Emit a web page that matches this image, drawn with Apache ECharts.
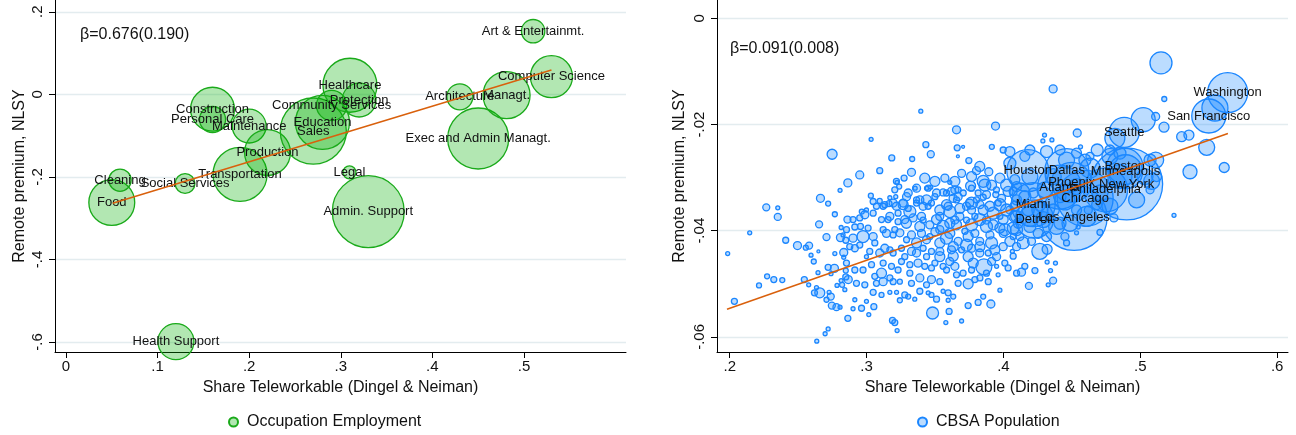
<!DOCTYPE html>
<html><head><meta charset="utf-8">
<script src="https://cdn.jsdelivr.net/npm/echarts@6/dist/echarts.min.js"></script>
<style>html,body{margin:0;padding:0;background:#fff}#c{width:1296px;height:435px}</style>
</head><body><div id="c"></div>
<script>
// ---------------- Left panel: occupations ----------------
const occNames = ['Food','Cleaning','Social Services','Transportation','Construction','Personal Care','Maintenance','Production','Sales','Education','Community Services','Healthcare','Protection','Legal','Admin. Support','Health Support','Exec and Admin Managt.','Architecture','Managt.','Computer Science','Art & Entertainmt.'];
const occShare = [0.050,0.059,0.130,0.190,0.160,0.160,0.200,0.220,0.270,0.280,0.290,0.310,0.320,0.3095,0.330,0.120,0.450,0.430,0.481,0.530,0.510];
const occPremium = [-0.262,-0.208,-0.216,-0.194,-0.036,-0.061,-0.077,-0.141,-0.089,-0.068,-0.027,0.022,-0.014,-0.189,-0.284,-0.599,-0.107,-0.006,-0.002,0.043,0.153];
const occEmployment = [8.1,1.9,1.5,11.2,7.4,2.6,4.4,8.1,16.8,11.2,3.5,11.2,4.4,0.65,19.9,5.0,14.3,2.6,8.5,6.8,2.1]; // millions
const occXTicks = [0,0.1,0.2,0.3,0.4,0.5];
const occYTicks = [-0.6,-0.4,-0.2,0,0.2];
const occFitX = [0.051,0.530];
const occFitY = [-0.264,0.059];

// ---------------- Right panel: CBSAs ----------------
const cbsaPoints = [
[0.2748,-0.0256,375],[0.2863,-0.0310,240],[0.2806,-0.0324,60],[0.2663,-0.0339,240],[0.2719,-0.0349,94],
[0.2267,-0.0356,184],[0.2351,-0.0357,60],[0.2351,-0.0374,184],[0.2768,-0.0369,94],[0.2860,-0.0379,184],
[0.2653,-0.0388,184],[0.2814,-0.0394,60],[0.2146,-0.0404,60],[0.2707,-0.0412,184],[0.2809,-0.0413,240],
[0.2828,-0.0408,60],[0.2409,-0.0418,135],[0.2495,-0.0428,240],[0.2556,-0.0432,94],[0.2580,-0.0428,184],
[0.1985,-0.0443,60],[0.2648,-0.0439,34],[0.2594,-0.0446,60],[0.2768,-0.0443,60],[0.2833,-0.0441,240],
[0.2833,-0.0450,60],[0.2614,-0.0458,94],[0.2719,-0.0469,135],[0.2765,-0.0471,240],[0.2848,-0.0475,94],
[0.2645,-0.0479,60],[0.2740,-0.0481,60],[0.2848,-0.0487,135],[0.2273,-0.0486,94],[0.2322,-0.0492,135],
[0.2384,-0.0493,94],[0.2545,-0.0492,135],[0.2214,-0.0503,94],[0.2577,-0.0502,60],[0.2814,-0.0494,60],
[0.2784,-0.0503,60],[0.2821,-0.0502,94],[0.2634,-0.0507,60],[0.2619,-0.0517,135],[0.2658,-0.0517,375],
[0.2726,-0.0516,60],[0.2738,-0.0524,184],[0.2707,-0.0530,94],[0.2746,-0.0541,184],[0.2780,-0.0544,184],
[0.2806,-0.0544,60],[0.2034,-0.0533,135],[0.2863,-0.0565,135],[0.2719,-0.0585,60],[0.2697,-0.0594,60],
[0.2636,-0.0608,60],[0.3396,-0.0175,60],[0.3657,-0.0210,240],[0.3662,-0.0244,135],[0.3705,-0.0242,34],
[0.3667,-0.0260,34],[0.3433,-0.0238,135],[0.3469,-0.0256,184],[0.3033,-0.0228,60],[0.3184,-0.0263,135],
[0.3333,-0.0265,94],[0.3328,-0.0290,240],[0.3096,-0.0287,135],[0.2950,-0.0295,240],[0.3274,-0.0301,135],
[0.3223,-0.0309,60],[0.3031,-0.0334,94],[0.3747,-0.0268,135],[0.3803,-0.0287,240],[0.3767,-0.0298,375],
[0.3760,-0.0316,375],[0.3608,-0.0309,60],[0.3559,-0.0328,184],[0.3438,-0.0320,60],[0.3355,-0.0320,60],
[0.3292,-0.0336,240],[0.3213,-0.0336,60],[0.3170,-0.0338,60],[0.3365,-0.0348,135],[0.3096,-0.0344,94],
[0.3164,-0.0349,135],[0.3267,-0.0351,375],[0.3499,-0.0336,135],[0.3620,-0.0326,240],[0.3669,-0.0336,240],
[0.3584,-0.0351,375],[0.3450,-0.0354,135],[0.2965,-0.0364,94],[0.3754,-0.0348,240],[0.3815,-0.0329,135],
[0.3942,-0.0203,240],[0.3915,-0.0242,94],[0.3998,-0.0248,135],[0.4047,-0.0251,375],[0.3893,-0.0289,240],
[0.3974,-0.0301,375],[0.3469,-0.0318,60],[0.3206,-0.0323,135],[0.3669,-0.0323,135],[0.3389,-0.0342,240],
[0.3632,-0.0339,240],[0.3803,-0.0342,135],[0.3852,-0.0337,135],[0.3944,-0.0332,135],[0.4034,-0.0326,375],
[0.2999,-0.0361,60],[0.3072,-0.0354,135],[0.3121,-0.0354,135],[0.2987,-0.0370,240],[0.3157,-0.0379,135],
[0.3230,-0.0383,135],[0.3316,-0.0364,540],[0.3340,-0.0376,240],[0.3401,-0.0373,240],[0.3511,-0.0379,375],
[0.3608,-0.0386,375],[0.3681,-0.0373,240],[0.3767,-0.0361,240],[0.3827,-0.0379,540],[0.3925,-0.0389,375],
[0.3998,-0.0379,375],[0.4047,-0.0361,240],[0.4096,-0.0342,375],[0.2914,-0.0393,135],[0.2955,-0.0392,135],
[0.2974,-0.0411,540],[0.2901,-0.0414,240],[0.2848,-0.0418,135],[0.2914,-0.0433,184],[0.2999,-0.0449,60],
[0.3060,-0.0423,135],[0.3121,-0.0398,135],[0.3243,-0.0404,240],[0.3194,-0.0408,135],[0.3292,-0.0417,135],
[0.3365,-0.0423,375],[0.3438,-0.0417,240],[0.3499,-0.0402,240],[0.3584,-0.0414,540],[0.3669,-0.0420,240],
[0.3742,-0.0411,375],[0.3827,-0.0420,240],[0.3742,-0.0449,375],[0.3937,-0.0436,375],[0.3950,-0.0449,240],
[0.4065,-0.0439,60],[0.4096,-0.0430,240],[0.3096,-0.0442,240],[0.3170,-0.0436,135],[0.3279,-0.0449,135],
[0.3376,-0.0461,240],[0.3438,-0.0449,135],[0.3535,-0.0449,375],[0.3608,-0.0458,240],[0.3645,-0.0467,240],
[0.3559,-0.0467,135],[0.3474,-0.0470,135],[0.3857,-0.0468,960],[0.3950,-0.0467,60],[0.4034,-0.0470,135],
[0.4096,-0.0480,135],[0.3036,-0.0464,135],[0.2974,-0.0474,135],[0.2914,-0.0474,135],[0.3109,-0.0480,375],
[0.3060,-0.0486,135],[0.3170,-0.0489,135],[0.3230,-0.0474,135],[0.3316,-0.0480,135],[0.3389,-0.0489,240],
[0.3474,-0.0492,240],[0.3535,-0.0496,135],[0.3657,-0.0483,135],[0.3705,-0.0480,135],[0.3791,-0.0492,135],
[0.3742,-0.0500,375],[0.3961,-0.0483,60],[0.2866,-0.0492,240],[0.2926,-0.0499,135],[0.2987,-0.0502,135],
[0.3121,-0.0496,240],[0.3243,-0.0496,94],[0.3048,-0.0516,135],[0.3170,-0.0516,60],[0.3219,-0.0516,60],
[0.3279,-0.0521,135],[0.3389,-0.0514,135],[0.3450,-0.0517,60],[0.3559,-0.0514,60],[0.3596,-0.0517,135],
[0.2841,-0.0511,60],[0.2914,-0.0530,60],[0.2999,-0.0533,60],[0.3243,-0.0531,94],[0.3352,-0.0529,60],
[0.3511,-0.0529,135],[0.3596,-0.0531,60],[0.3815,-0.0535,135],[0.3908,-0.0538,240],[0.3974,-0.0512,60],
[0.5246,-0.0371,60],[0.4807,-0.0376,240],[0.4705,-0.0403,135],[0.4534,-0.0404,60],[0.4461,-0.0423,135],
[0.4319,-0.0435,375],[0.4266,-0.0439,960],[0.4319,-0.0459,60],[0.4380,-0.0461,60],[0.4156,-0.0467,135],
[0.4230,-0.0475,135],[0.4132,-0.0478,240],[0.4344,-0.0475,60],[0.4363,-0.0494,184],[0.4327,-0.0502,60],
[0.4186,-0.0504,184],[0.3827,-0.0442,240],[0.4539,-0.0216,240],[0.4300,-0.0220,60],[0.4288,-0.0231,60],
[0.4354,-0.0229,60],[0.4563,-0.0242,60],[0.4685,-0.0248,540],[0.4632,-0.0260,240],[0.4156,-0.0260,375],
[0.5112,-0.0185,240],[0.5173,-0.0205,375],[0.5302,-0.0223,375],[0.5363,-0.0289,735],[0.5112,-0.0267,960],
[0.5021,-0.0191,2160],[0.4546,-0.0393,60],[0.4144,-0.0423,540],[0.5151,-0.0084,1815],[0.4363,-0.0133,240],
[0.5175,-0.0152,94],[0.5355,-0.0220,375],[0.5485,-0.0243,960],[0.5613,-0.0281,375],[0.4814,-0.0226,1500],
[0.4778,-0.0260,960],[0.3827,-0.0279,375],[0.3482,-0.0555,540],[0.3579,-0.0573,60],[0.3694,-0.0570,60],
[0.3603,-0.0552,135],[0.3189,-0.0569,135],[0.3206,-0.0573,135],[0.3223,-0.0588,60],[0.3016,-0.0558,60],
[0.3053,-0.0543,135],[0.3742,-0.0541,135],[0.2901,-0.0547,60],[0.2963,-0.0546,135],[0.4461,-0.0267,960],
[0.4632,-0.0282,1500],[0.5034,-0.0298,960],[0.4120,-0.0329,1500],[0.4193,-0.0373,1500],[0.4608,-0.0373,1500],
[0.4778,-0.0354,960],[0.4851,-0.0298,2160],[0.4388,-0.0392,960],[0.4096,-0.0398,540],[0.4303,-0.0323,960],
[0.4047,-0.0273,540],[0.4266,-0.0361,960],[0.4449,-0.0342,1500],[0.4010,-0.0398,540],[0.3974,-0.0351,540],
[0.3864,-0.0314,540],[0.5545,-0.0169,2535],
[0.3218,-0.0307,135],[0.3238,-0.0317,94],[0.3365,-0.0320,240],[0.3450,-0.0320,135],[0.3511,-0.0329,240],
[0.3584,-0.0329,135],[0.3645,-0.0323,240],[0.3706,-0.0329,135],[0.3767,-0.0320,135],[0.3876,-0.0332,240],
[0.3949,-0.0323,135],[0.3986,-0.0339,240],[0.4071,-0.0326,240],[0.3048,-0.0345,135],[0.3133,-0.0351,135],
[0.3194,-0.0348,240],[0.3267,-0.0348,240],[0.3304,-0.0358,135],[0.3365,-0.0342,135],[0.3413,-0.0354,240],
[0.3474,-0.0348,135],[0.3596,-0.0354,240],[0.3657,-0.0342,135],[0.3730,-0.0354,240],[0.3828,-0.0351,240],
[0.3901,-0.0354,375],[0.3962,-0.0348,135],[0.2901,-0.0379,135],[0.2950,-0.0376,135],[0.3048,-0.0367,135],
[0.3109,-0.0379,135],[0.3170,-0.0373,240],[0.3230,-0.0367,135],[0.3279,-0.0379,240],[0.3413,-0.0380,135],
[0.3462,-0.0389,240],[0.3535,-0.0373,240],[0.3645,-0.0380,240],[0.3730,-0.0380,135],[0.3791,-0.0373,135],
[0.3876,-0.0380,240],[0.3974,-0.0373,135],[0.2853,-0.0398,135],[0.3011,-0.0395,135],[0.3048,-0.0411,240],
[0.3145,-0.0405,240],[0.3206,-0.0398,135],[0.3328,-0.0408,240],[0.3401,-0.0405,240],[0.3462,-0.0411,135],
[0.3535,-0.0398,240],[0.3608,-0.0405,375],[0.3718,-0.0401,135],[0.3791,-0.0405,240],[0.3901,-0.0408,240],
[0.3998,-0.0405,240],[0.4071,-0.0411,135],[0.2877,-0.0430,135],[0.2950,-0.0427,135],[0.3023,-0.0439,135],
[0.3133,-0.0433,240],[0.3194,-0.0442,135],[0.3255,-0.0433,135],[0.3328,-0.0439,240],[0.3413,-0.0433,135],
[0.3474,-0.0439,135],[0.3620,-0.0436,240],[0.3694,-0.0436,135],[0.3767,-0.0433,240],[0.3889,-0.0442,135],
[0.3998,-0.0430,240],[0.4071,-0.0448,135],[0.2853,-0.0461,135],[0.3121,-0.0461,135],[0.3182,-0.0467,135],
[0.3255,-0.0458,135],[0.3316,-0.0464,135],[0.3425,-0.0467,135],[0.3499,-0.0461,135],[0.3584,-0.0474,135],
[0.3767,-0.0474,135],[0.3876,-0.0480,135],[0.4010,-0.0461,135],[0.3072,-0.0499,135],[0.3194,-0.0496,135],
[0.3328,-0.0499,135],[0.3438,-0.0502,135],[0.3669,-0.0499,135],[0.3828,-0.0489,135],[0.3889,-0.0496,135],
[0.3109,-0.0521,94],[0.3304,-0.0524,94],[0.3474,-0.0521,94],[0.3633,-0.0524,94],[0.3852,-0.0524,94],
[0.4096,-0.0317,375],[0.4157,-0.0336,540],[0.4084,-0.0354,375],[0.4218,-0.0329,375],[0.4181,-0.0361,540],
[0.4266,-0.0354,375],[0.4108,-0.0386,375],[0.4193,-0.0392,540],[0.4254,-0.0405,375],[0.4364,-0.0361,540],
[0.4413,-0.0386,540],[0.4120,-0.0411,240],[0.4205,-0.0420,240],[0.4315,-0.0411,375],[0.4449,-0.0411,240],
[0.4534,-0.0361,375],[0.4620,-0.0361,240],[0.4681,-0.0351,375],[0.4193,-0.0248,375],[0.4315,-0.0251,540],
[0.4413,-0.0248,375],[0.4534,-0.0254,375],[0.4595,-0.0267,540],[0.4778,-0.0248,375],[0.4851,-0.0254,540],
[0.5071,-0.0267,540],[0.5119,-0.0298,375],[0.5071,-0.0323,240],[0.5083,-0.0307,960],
[0.3425,-0.0301,375],[0.3499,-0.0307,375],[0.3572,-0.0301,240],[0.3645,-0.0307,375],[0.3694,-0.0292,240],
[0.3852,-0.0307,540],[0.3913,-0.0314,375],[0.4023,-0.0314,540],[0.4083,-0.0304,375],[0.3535,-0.0361,375],
[0.3608,-0.0364,540],[0.3681,-0.0358,375],[0.3767,-0.0348,540],[0.3852,-0.0361,375],[0.3925,-0.0367,540],
[0.4023,-0.0361,540],[0.4083,-0.0373,540],[0.3559,-0.0392,540],[0.3657,-0.0389,375],[0.3767,-0.0389,540],
[0.3876,-0.0392,540],[0.3974,-0.0395,375],[0.4071,-0.0395,540],[0.3535,-0.0423,375],[0.3633,-0.0430,375],
[0.3730,-0.0427,540],[0.3828,-0.0430,375],[0.3913,-0.0423,540],[0.4047,-0.0420,375],[0.3389,-0.0392,375],
[0.3291,-0.0386,375],[0.3438,-0.0342,375],[0.3304,-0.0329,240],[0.3218,-0.0354,240],[0.3365,-0.0442,240],
[0.3535,-0.0439,240],[0.3633,-0.0448,375],[0.3779,-0.0461,375],[0.3913,-0.0458,240],
[0.4193,-0.0298,960],[0.4364,-0.0298,960],[0.4534,-0.0317,960],[0.4291,-0.0379,960],[0.4486,-0.0386,960],
[0.4705,-0.0329,960],[0.4973,-0.0342,960],[0.4096,-0.0373,540],[0.4413,-0.0336,540]
]; // [share teleworkable, remote premium, population (thousands)]
const cityNames = ['Washington','San Francisco','Seattle','Houston','Dallas','Boston','Minneapolis','New York','Philadelphia','Phoenix','Atlanta','Chicago','Miami','Detroit','Los Angeles'];
const cityShare = [0.5638,0.5500,0.4882,0.4178,0.4463,0.4887,0.4892,0.4900,0.4746,0.4498,0.4410,0.4597,0.4217,0.4227,0.4516];
const cityPremium = [-0.0140,-0.0184,-0.0215,-0.0287,-0.0287,-0.0279,-0.0289,-0.0312,-0.0323,-0.0309,-0.0318,-0.0339,-0.0351,-0.0378,-0.0375];
const cityPop = [6000,4335,3375,6615,7260,4860,4335,19440,7260,6000,7260,11760,7260,5415,16335];
const cbsaXTicks = [0.2,0.3,0.4,0.5,0.6];
const cbsaYTicks = [-0.06,-0.04,-0.02,0];
const cbsaFitX = [0.198,0.564];
const cbsaFitY = [-0.0548,-0.0217];

// ---------------- build ----------------
const FONT = '"Liberation Sans", Arial, Helvetica, sans-serif';
const TXT = '#111';
function stataFmt(v){
  if (Math.abs(v) < 1e-12) return '0';
  const s = String(Math.round(v*10000)/10000);
  return s.replace(/^(-?)0\./, '$1.');
}
const occData = occNames.map((n,i)=>({name:n, value:[occShare[i], occPremium[i], occEmployment[i]]}));
const cbsaData = cbsaPoints.map(p=>({name:'', value:p}))
  .concat(cityNames.map((n,i)=>({name:n, value:[cityShare[i], cityPremium[i], cityPop[i]]})));

function xAxisCfg(grid, min, max, ticks){
  return {type:'value', gridIndex:grid, min:min, max:max,
    axisLine:{show:true, onZero:false, lineStyle:{color:'#000', width:1}},
    axisTick:{show:true, length:6, customValues:ticks, lineStyle:{color:'#000', width:1}},
    axisLabel:{customValues:ticks, formatter:stataFmt, margin:7, fontSize:15, color:TXT, fontFamily:FONT},
    splitLine:{show:false},
    name:'Share Teleworkable (Dingel & Neiman)', nameLocation:'middle', nameGap:28,
    nameTextStyle:{fontSize:16, color:TXT, fontFamily:FONT}};
}
function yAxisCfg(grid, min, max, ticks, gap){
  return {type:'value', gridIndex:grid, min:min, max:max,
    axisLine:{show:true, onZero:false, lineStyle:{color:'#000', width:1}},
    axisTick:{show:true, length:6, customValues:ticks, lineStyle:{color:'#000', width:1}},
    axisLabel:{customValues:ticks, formatter:stataFmt, rotate:90, margin:10, fontSize:15, color:TXT, fontFamily:FONT},
    splitLine:{show:false},
    name:'Remote premium, NLSY', nameLocation:'middle', nameGap:gap,
    nameTextStyle:{fontSize:16, color:TXT, fontFamily:FONT}};
}
function gridSeries(ax, ticks){
  return {type:'line', xAxisIndex:ax, yAxisIndex:ax, data:[], silent:true, z:0,
    markLine:{silent:true, z:0, symbol:['none','none'], label:{show:false}, animation:false,
      emphasis:{disabled:true},
      lineStyle:{color:'#e3ecef', width:1.3, type:'solid'},
      data: ticks.map(v=>({yAxis:v}))}};
}

const option = {
  animation:false,
  backgroundColor:'#fff',
  textStyle:{fontFamily:FONT},
  grid:[
    {left:55, top:0, width:571, height:352, outerBoundsMode:'none', containLabel:false},
    {left:717, top:0, width:571, height:352, outerBoundsMode:'none', containLabel:false}
  ],
  xAxis:[ xAxisCfg(0, -0.012, 0.6114, occXTicks), xAxisCfg(1, 0.1907, 0.6079, cbsaXTicks) ],
  yAxis:[ yAxisCfg(0, -0.6242, 0.2285, occYTicks, 27), yAxisCfg(1, -0.06284, 0.00344, cbsaYTicks, 29) ],
  legend:[
    {data:['Occupation Employment'], left:228, top:414, padding:0, icon:'circle', itemWidth:9, itemHeight:9,
     selectedMode:false, textStyle:{fontSize:16, color:TXT, fontFamily:FONT, padding:[0,0,0,4]}},
    {data:['CBSA Population'], left:917, top:414, padding:0, icon:'circle', itemWidth:9, itemHeight:9,
     selectedMode:false, textStyle:{fontSize:16, color:TXT, fontFamily:FONT, padding:[0,0,0,4]}}
  ],
  graphic:[
    {type:'text', left:80, top:27, silent:true, style:{text:'β=0.676(0.190)', font:'16px '+FONT, fill:TXT}},
    {type:'text', left:730, top:41, silent:true, style:{text:'β=0.091(0.008)', font:'16px '+FONT, fill:TXT}}
  ],
  series:[
    gridSeries(0, occYTicks),
    gridSeries(1, cbsaYTicks),
    {name:'Occupation Employment', type:'scatter', xAxisIndex:0, yAxisIndex:0, z:2,
     data:occData, symbol:'circle',
     symbolSize:(v)=>2*Math.sqrt(65*v[2]),
     itemStyle:{color:'rgba(0,175,0,0.30)', borderColor:'#1aaa1a', borderWidth:1.3, opacity:1},
     label:{show:true, position:'inside', formatter:(p)=>p.name, fontSize:13, color:TXT, fontFamily:FONT},
     emphasis:{disabled:true}},
    {name:'fitOcc', type:'line', xAxisIndex:0, yAxisIndex:0, z:4, silent:true, symbol:'none',
     data:occFitX.map((x,i)=>[x, occFitY[i]]),
     lineStyle:{color:'#d9600c', width:1.5}, emphasis:{disabled:true}},
    {name:'CBSA Population', type:'scatter', xAxisIndex:1, yAxisIndex:1, z:2,
     data:cbsaData, symbol:'circle',
     symbolSize:(v)=>2*Math.sqrt(v[2]/15),
     itemStyle:{color:'rgba(30,140,255,0.30)', borderColor:'#1a86ff', borderWidth:1.3, opacity:1},
     label:{show:true, position:'inside', formatter:(p)=>p.name, fontSize:13, color:TXT, fontFamily:FONT},
     emphasis:{disabled:true}},
    {name:'fitCbsa', type:'line', xAxisIndex:1, yAxisIndex:1, z:4, silent:true, symbol:'none',
     data:cbsaFitX.map((x,i)=>[x, cbsaFitY[i]]),
     lineStyle:{color:'#d9600c', width:1.5}, emphasis:{disabled:true}}
  ]
};
const chart = echarts.init(document.getElementById('c'), null, {renderer:'canvas'});
chart.setOption(option);
</script></body></html>
